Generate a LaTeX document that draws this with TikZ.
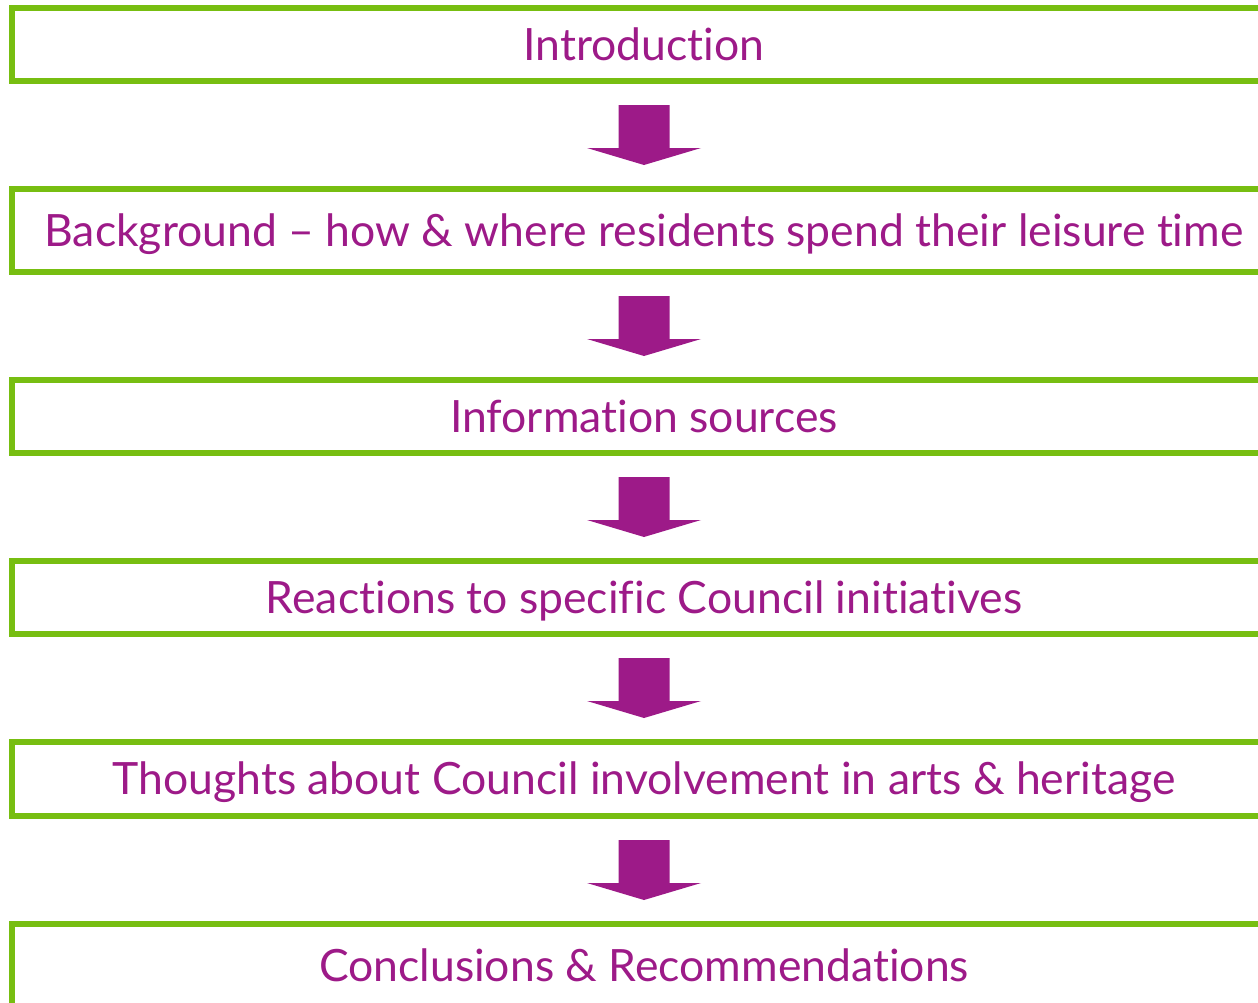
\documentclass[tikz,border=0pt]{standalone}
\usepackage{fontspec}
\setmainfont[Ligatures={NoCommon,NoRare}]{Lato}
\usetikzlibrary{calc}
\definecolor{boxgreen}{RGB}{119,190,17}
\definecolor{arrowpurple}{RGB}{157,26,136}
\tikzset{
  stagebox/.style={draw=boxgreen, line width=6pt, fill=white, inner sep=0pt,
    minimum width=1264pt, text height=31pt, text depth=0pt,
    text=arrowpurple, font=\fontsize{44.5}{50}\selectfont},
  downarrow/.style={fill=arrowpurple}
}
\newcommand{\downarr}[1]{%
  \fill[downarrow] ($(#1)+(-25.5,-30)$) -- ($(#1)+(25.5,-30)$) -- ($(#1)+(25.5,13)$)
    -- ($(#1)+(57,13)$) -- ($(#1)+(0,30)$) -- ($(#1)+(-57,13)$) -- ($(#1)+(-25.5,13)$) -- cycle;}
\begin{document}
\begin{tikzpicture}[x=1pt,y=-1pt]
\useasboundingbox (0,0) rectangle (1258,1002);
\clip (0,0) rectangle (1258,1002);
\node[stagebox, minimum height=73pt] (b1) at (644,44.5) {Introduction};
\node[stagebox, minimum height=83pt] (b2) at (644,230.5) {Background – how \& where residents spend their leisure time};
\node[stagebox, minimum height=73pt] (b3) at (644,416.5) {Information sources};
\node[stagebox, minimum height=73pt] (b4) at (644,597.5) {Reactions to specific Council initiatives};
\node[stagebox, minimum height=74pt] (b5) at (644,779) {Thoughts about Council involvement in arts \& heritage};
\node[stagebox, minimum height=83pt] (b6) at (644,965.5) {Conclusions \& Recommendations};
\path (b1.south) -- (b2.north) coordinate[midway] (m1);
\path (b2.south) -- (b3.north) coordinate[midway] (m2);
\path (b3.south) -- (b4.north) coordinate[midway] (m3);
\path (b4.south) -- (b5.north) coordinate[midway] (m4);
\path (b5.south) -- (b6.north) coordinate[midway] (m5);
\downarr{m1}
\downarr{m2}
\downarr{m3}
\downarr{m4}
\downarr{m5}
\end{tikzpicture}
\end{document}
